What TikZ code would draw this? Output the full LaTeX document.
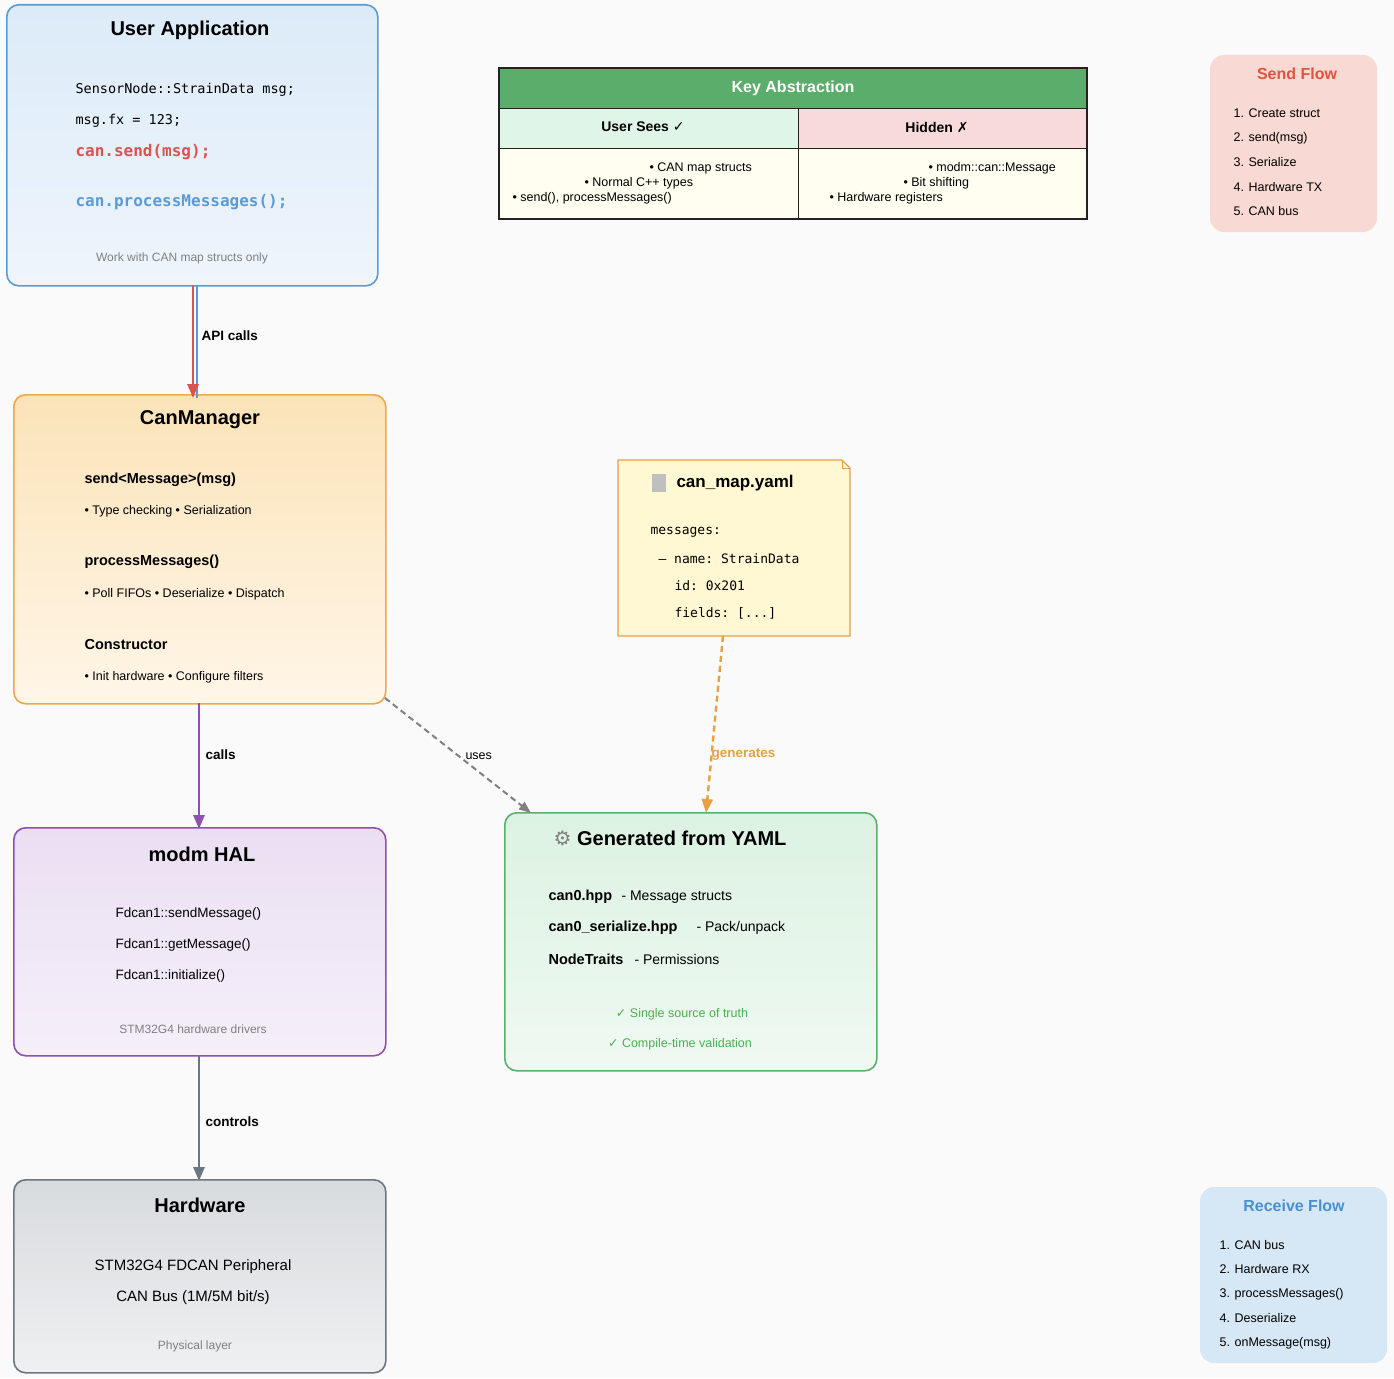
\documentclass[tikz,border=0pt]{standalone}
\usepackage{fontspec}
\setmainfont{Liberation Sans}
\setsansfont{Liberation Sans}
\setmonofont{DejaVu Sans Mono}
\newfontfamily\symf{DejaVu Sans}
\usetikzlibrary{arrows.meta}
\definecolor{bgc}{HTML}{FAFAFA}
\definecolor{ublue}{HTML}{5B9BD5}
\definecolor{ured}{HTML}{D9534F}
\definecolor{morange}{HTML}{F0A848}
\definecolor{hpurple}{HTML}{9050B0}
\definecolor{hwgrey}{HTML}{6C7680}
\definecolor{ggreen}{HTML}{5DB06A}
\definecolor{yorange}{HTML}{E8A040}
\definecolor{txtgrey}{HTML}{808080}
\definecolor{uaT}{HTML}{DCEBF8}\definecolor{uaB}{HTML}{EEF5FC}
\definecolor{cmT}{HTML}{FBE3B8}\definecolor{cmB}{HTML}{FFF6E8}
\definecolor{halT}{HTML}{EADFF2}\definecolor{halB}{HTML}{F5EFFA}
\definecolor{hwT}{HTML}{D8DBDE}\definecolor{hwB}{HTML}{EEF0F1}
\definecolor{genT}{HTML}{DCF2E2}\definecolor{genB}{HTML}{EFF9F2}
\definecolor{checkg}{HTML}{4CAF50}
\definecolor{yamlf}{HTML}{FFF8D2}
\definecolor{thead}{HTML}{5AAD6A}
\definecolor{tleft}{HTML}{DFF5E8}
\definecolor{tright}{HTML}{F8DADA}
\definecolor{tbody}{HTML}{FFFEF0}
\definecolor{tline}{HTML}{222222}
\definecolor{sff}{HTML}{F8D9D4}\definecolor{sft}{HTML}{E0533E}
\definecolor{rff}{HTML}{D6E8F6}\definecolor{rft}{HTML}{4A90D0}
\tikzset{
  box/.style={draw, line width=1.6pt, rounded corners=12pt},
  ttl/.style={font=\bfseries\fontsize{20}{24}\selectfont, anchor=center},
  item/.style={font=\fontsize{12.5}{15}\selectfont, anchor=west},
  bitem/.style={font=\bfseries\fontsize{14.5}{17}\selectfont, anchor=west},
  code/.style={font=\ttfamily\fontsize{13.5}{16}\selectfont, anchor=west},
  foot/.style={font=\fontsize{12}{14}\selectfont, text=txtgrey, anchor=center},
  lbl/.style={font=\bfseries\fontsize{13.5}{16}\selectfont, anchor=west},
  arr/.style={line width=2.6pt, -{Triangle[length=14pt,width=11pt]}},
  flowt/.style={font=\bfseries\fontsize{16}{19}\selectfont, anchor=center},
  flowi/.style={font=\fontsize{12.5}{15}\selectfont, anchor=west},
}
\begin{document}
\begin{tikzpicture}[x=1pt,y=-1pt]
\useasboundingbox[fill=bgc] (0,0) rectangle (1394,1378);

% User Application
\shade[top color=uaT, bottom color=uaB, rounded corners=12pt] (6,4) rectangle (377,285);
\node[box, draw=ublue, minimum width=371pt, minimum height=281pt, anchor=north west] (ua) at (6,4) {};
\node[ttl] (uat) at (190,30) {User Application};
\node[code] (c1) at (72,90) {SensorNode::StrainData msg;};
\node[code] (c2) at (72,121) {msg.fx = 123;};
\node[code, font=\ttfamily\bfseries\fontsize{16}{19}\selectfont, text=ured] (c3) at (72,152) {can.send(msg);};
\node[code, font=\ttfamily\bfseries\fontsize{16}{19}\selectfont, text=ublue] (c4) at (72,202) {can.processMessages();};
\node[foot] (uaf) at (182,258) {Work with CAN map structs only};

% CanManager
\shade[top color=cmT, bottom color=cmB, rounded corners=12pt] (13,394) rectangle (385,703);
\node[box, draw=morange, minimum width=372pt, minimum height=309pt, anchor=north west] (cm) at (13,394) {};
\node[ttl] (cmt) at (200,420) {CanManager};
\node[bitem] (m1) at (81,480) {send<Message>(msg)};
\node[item] (m1a) at (81,511) {• Type checking • Serialization};
\node[bitem] (m2) at (81,562) {processMessages()};
\node[item] (m2a) at (81,594) {• Poll FIFOs • Deserialize • Dispatch};
\node[bitem] (m3) at (81,645) {Constructor};
\node[item] (m3a) at (81,677) {• Init hardware • Configure filters};

% modm HAL
\shade[top color=halT, bottom color=halB, rounded corners=12pt] (13,827) rectangle (385,1055);
\node[box, draw=hpurple, minimum width=372pt, minimum height=228pt, anchor=north west] (hal) at (13,827) {};
\node[ttl] (halt) at (202,854) {modm HAL};
\node[item, font=\fontsize{13.5}{16}\selectfont] (h1) at (112,914) {Fdcan1::sendMessage()};
\node[item, font=\fontsize{13.5}{16}\selectfont] (h2) at (112,945) {Fdcan1::getMessage()};
\node[item, font=\fontsize{13.5}{16}\selectfont] (h3) at (112,976) {Fdcan1::initialize()};
\node[foot] (half) at (193,1029) {STM32G4 hardware drivers};

% Hardware
\shade[top color=hwT, bottom color=hwB, rounded corners=12pt] (13,1179) rectangle (385,1372);
\node[box, draw=hwgrey, minimum width=372pt, minimum height=193pt, anchor=north west] (hw) at (13,1179) {};
\node[ttl] (hwt) at (200,1205) {Hardware};
\node[font=\fontsize{15}{18}\selectfont] (hw1) at (193,1267) {STM32G4 FDCAN Peripheral};
\node[font=\fontsize{15}{18}\selectfont] (hw2) at (193,1298) {CAN Bus (1M/5M bit/s)};
\node[foot] (hwf) at (195,1346) {Physical layer};

% Generated
\shade[top color=genT, bottom color=genB, rounded corners=12pt] (504,812) rectangle (876,1070);
\node[box, draw=ggreen, minimum width=372pt, minimum height=258pt, anchor=north west] (gen) at (504,812) {};
\node[ttl] (gent) at (670,838) {{\symf\color{gray}⚙} Generated from YAML};
\node[bitem] (g1) at (545,897) {can0.hpp};
\node[item, font=\fontsize{14}{17}\selectfont] (g1a) at (618,897) {- Message structs};
\node[bitem] (g2) at (545,928) {can0\_serialize.hpp};
\node[item, font=\fontsize{14}{17}\selectfont] (g2a) at (693,928) {- Pack/unpack};
\node[bitem] (g3) at (545,959) {NodeTraits};
\node[item, font=\fontsize{14}{17}\selectfont] (g3a) at (631,959) {- Permissions};
\node[font=\fontsize{12.5}{15}\selectfont, text=checkg] (gc1) at (682,1014) {{\symf ✓} Single source of truth};
\node[font=\fontsize{12.5}{15}\selectfont, text=checkg] (gc2) at (680,1044) {{\symf ✓} Compile-time validation};

% yaml note
\fill[yamlf] (618,460) -- (842,460) -- (850,468) -- (850,636) -- (618,636) -- cycle;
\draw[yorange, line width=1.4pt] (618,460) -- (842,460) -- (850,468) -- (850,636) -- (618,636) -- cycle;
\draw[yorange, line width=1pt] (842,460) -- (842,468) -- (850,468);
\node[inner sep=0pt, minimum width=232pt, minimum height=176pt, anchor=north west] (yaml) at (618,460) {};
\node[font=\bfseries\fontsize{17}{20}\selectfont, anchor=west] (yt) at (673,483) {can\_map.yaml};
\fill[gray!50] (652,474) rectangle (666,492);
\node[code, font=\ttfamily\fontsize{13}{16}\selectfont] (y1) at (647,532) {messages:};
\node[code, font=\ttfamily\fontsize{13}{16}\selectfont] (y2) at (655,559) {– name: StrainData};
\node[code, font=\ttfamily\fontsize{13}{16}\selectfont] (y3) at (671,586) {id: 0x201};
\node[code, font=\ttfamily\fontsize{13}{16}\selectfont] (y4) at (671,613) {fields: [...]};

% Table
\fill[thead] (499,68) rectangle (1087,109);
\fill[tleft] (499,109) rectangle (798,148);
\fill[tright] (798,109) rectangle (1087,148);
\fill[tbody] (499,148) rectangle (1087,219);
\draw[line width=2pt, tline] (499,68) rectangle (1087,219);
\draw[line width=1pt, tline] (499,109) -- (1087,109) (499,148) -- (1087,148) (798,109) -- (798,219);
\node[inner sep=0pt, minimum width=588pt, minimum height=151pt, anchor=north west] (tab) at (499,68) {};
\node[font=\bfseries\fontsize{16}{19}\selectfont, text=white] (tt) at (793,88) {Key Abstraction};
\node[font=\bfseries\fontsize{14}{17}\selectfont] (th1) at (643,127) {User Sees {\symf ✓}};
\node[font=\bfseries\fontsize{14}{17}\selectfont] (th2) at (937,127) {Hidden {\symf ✗}};
\node[item] (l1) at (646,168) {• CAN map structs};
\node[item] (l2) at (581,183) {• Normal C++ types};
\node[item] (l3) at (509,198) {• send(), processMessages()};
\node[item] (r1) at (925,168) {• modm::can::Message};
\node[item] (r2) at (900,183) {• Bit shifting};
\node[item] (r3) at (826,198) {• Hardware registers};

% Send Flow
\fill[sff, rounded corners=14pt] (1210,55) rectangle (1377,232);
\node[inner sep=0pt, minimum width=167pt, minimum height=177pt, anchor=north west] (sf) at (1210,55) {};
\node[flowt, text=sft] (sftt) at (1297,74) {Send Flow};
\foreach \t [count=\i] in {Create struct, send(msg), Serialize, Hardware TX, CAN bus}
  \node[flowi] (sf\i) at (1230,89+24.5*\i) {\i. \t};

% Receive Flow
\fill[rff, rounded corners=14pt] (1200,1187) rectangle (1387,1363);
\node[inner sep=0pt, minimum width=187pt, minimum height=176pt, anchor=north west] (rf) at (1200,1187) {};
\node[flowt, text=rft] (rftt) at (1294,1206) {Receive Flow};
\foreach \t [count=\i] in {CAN bus, Hardware RX, processMessages(), Deserialize, onMessage(msg)}
  \node[flowi] (rf\i) at (1216,1220.5+24.5*\i) {\i. \t};

% Connectors
\coordinate (a1) at (193,285); \coordinate (a2) at (193,398);
\coordinate (b1) at (197,285); \coordinate (b2) at (197,398);
\draw[line width=2.6pt, ublue] (b1) -- (b2);
\draw[arr, ured] (a1) -- (a2);
\node[lbl] (apil) at (198,336) {API calls};

\coordinate (p1) at (199,703); \coordinate (p2) at (199,829);
\draw[arr, hpurple] (p1) -- (p2);
\node[lbl] (calls) at (202,755) {calls};

\coordinate (q1) at (199,1055); \coordinate (q2) at (199,1181);
\draw[arr, hwgrey] (q1) -- (q2);
\node[lbl] (ctrl) at (202,1122) {controls};

\coordinate (u1) at (385,698); \coordinate (u2) at (531,813);
\draw[line width=2pt, gray, dash pattern=on 6pt off 4pt, -{Triangle[length=12pt,width=9pt]}] (u1) -- (u2);
\node[font=\fontsize{12.5}{15}\selectfont, anchor=west] (uses) at (462,756) {uses};

\coordinate (y0) at (723,636); \coordinate (yg) at (706,813);
\draw[line width=2.4pt, yorange, dash pattern=on 6pt off 4pt, -{Triangle[length=14pt,width=11pt]}] (y0) -- (yg);
\node[lbl, text=yorange] (genl) at (708,755) {generates};
\end{tikzpicture}
\end{document}
